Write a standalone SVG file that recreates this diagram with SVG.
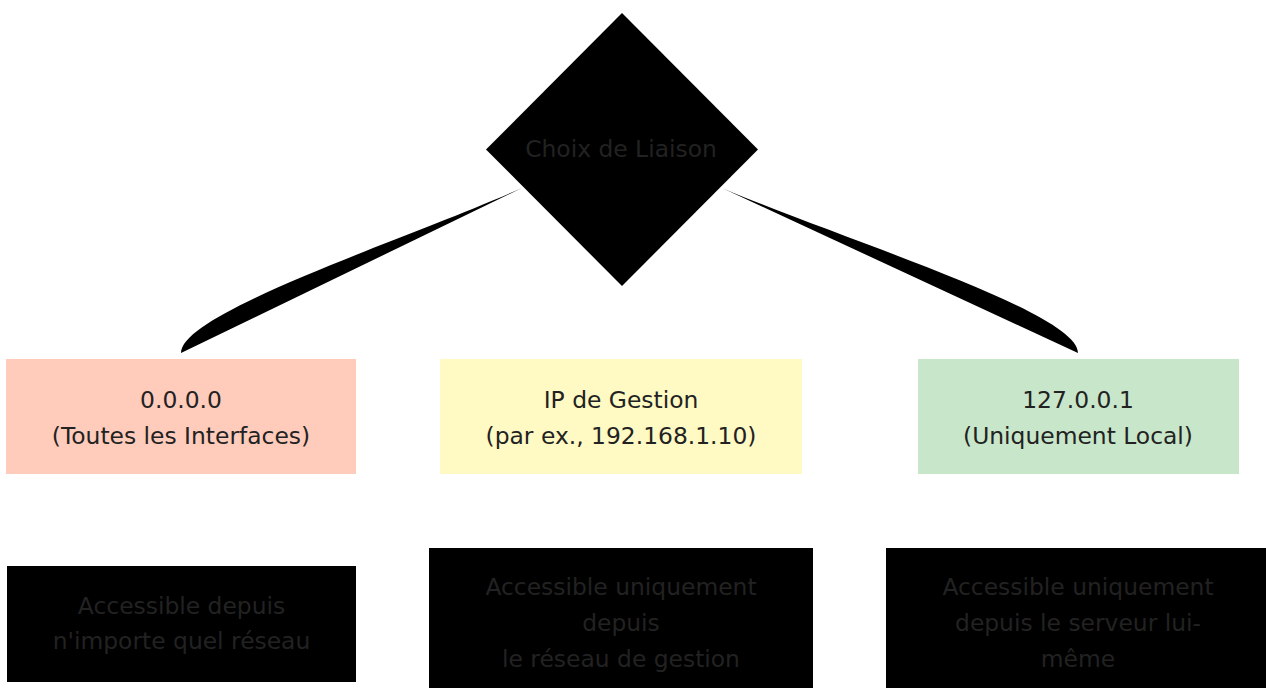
<svg xmlns="http://www.w3.org/2000/svg" width="1266" height="688" viewBox="0 0 1266 688">
<style>
text{font-family:"DejaVu Sans","Liberation Sans",sans-serif;font-size:23.4px;fill:#222;text-anchor:middle}
.dark{fill:#000}
.edge{fill:#000;stroke:none}
</style>
<rect width="1266" height="688" fill="#fff"/>
<g id="connectors">
<path class="edge" d="M522,188 C405,240 181,312 181,353 Z"/>
<path class="edge" d="M722,188 C844,240 1078,312 1078,353 Z"/>
</g>
<g id="choix">
<polygon class="dark" points="622,13 758,149.5 622,286 486,149.5"/>
<text x="621" y="157">Choix de Liaison</text>
</g>
<g id="all">
<rect x="6" y="359" width="350" height="115" fill="#ffccbc"/>
<text x="181" y="408">0.0.0.0</text>
<text x="181" y="444">(Toutes les Interfaces)</text>
</g>
<g id="mgmt">
<rect x="440" y="359" width="362" height="115" fill="#fff9c4"/>
<text x="621" y="408">IP de Gestion</text>
<text x="621" y="444">(par ex., 192.168.1.10)</text>
</g>
<g id="local">
<rect x="918" y="359" width="321" height="115" fill="#c8e6c9"/>
<text x="1078" y="408">127.0.0.1</text>
<text x="1078" y="444">(Uniquement Local)</text>
</g>
<g id="any">
<rect class="dark" x="7" y="566" width="349" height="116"/>
<text x="181.5" y="614">Accessible depuis</text>
<text x="181.5" y="649">n'importe quel réseau</text>
</g>
<g id="mgmtnet">
<rect class="dark" x="429" y="548" width="384" height="152"/>
<text x="621" y="595">Accessible uniquement</text>
<text x="621" y="631">depuis</text>
<text x="621" y="667">le réseau de gestion</text>
</g>
<g id="self">
<rect class="dark" x="886" y="548" width="384" height="152"/>
<text x="1078" y="595">Accessible uniquement</text>
<text x="1078" y="631">depuis le serveur lui-</text>
<text x="1078" y="667">même</text>
</g>
</svg>
